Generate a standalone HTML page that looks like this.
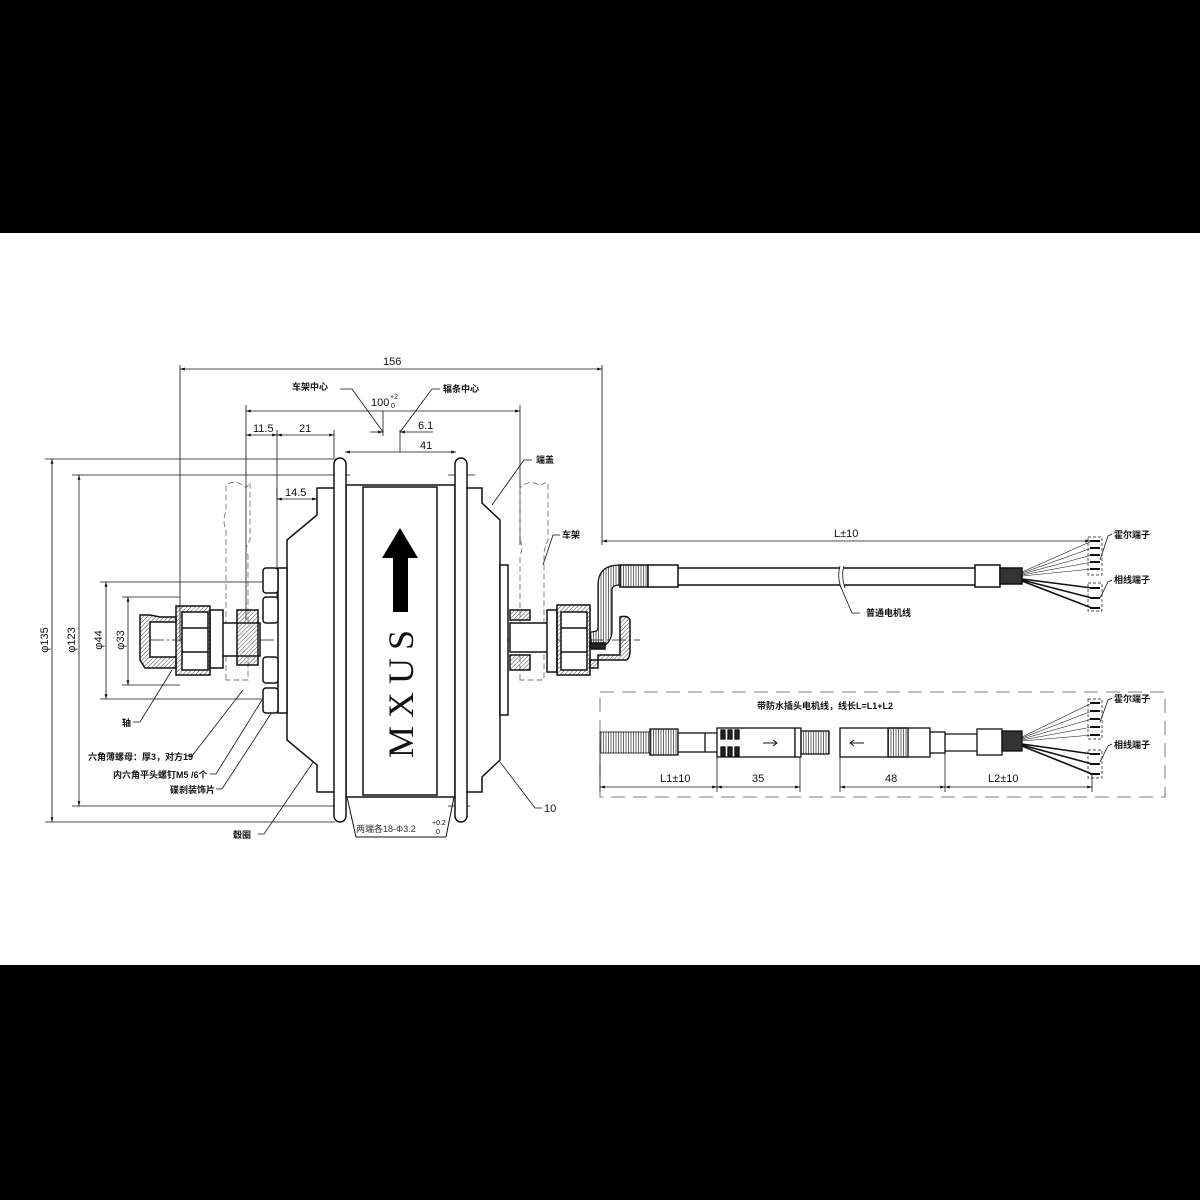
<!DOCTYPE html>
<html><head><meta charset="utf-8"><style>
html,body{margin:0;padding:0;background:#000;}
svg{display:block}
text{font-family:"Liberation Sans","Noto Sans CJK SC",sans-serif;fill:#111}
.cn{font-weight:bold;font-size:9px}
.d{font-size:11px}
</style></head><body>
<svg width="1200" height="1200" viewBox="0 0 1200 1200" xmlns="http://www.w3.org/2000/svg">
<defs>
<pattern id="h" width="3" height="3" patternUnits="userSpaceOnUse" patternTransform="rotate(45)"><line x1="0" y1="0" x2="0" y2="3" stroke="#444" stroke-width="1"/></pattern>
<pattern id="v" width="2.5" height="3" patternUnits="userSpaceOnUse"><line x1="1" y1="0" x2="1" y2="3" stroke="#444" stroke-width="0.8"/></pattern>
<marker id="a" viewBox="0 0 10 10" refX="10" refY="5" markerWidth="6" markerHeight="6" orient="auto-start-reverse"><path d="M0,2 L10,5 L0,8 z" fill="#111"/></marker>
</defs>
<rect x="0" y="233" width="1200" height="732" fill="#fff"/>
<g stroke="#111" fill="none" stroke-width="0.8">
<line x1="180" y1="365" x2="180" y2="642"/>
<line x1="602" y1="365" x2="602" y2="545"/>
<line x1="246" y1="405" x2="246" y2="620"/>
<line x1="520" y1="405" x2="520" y2="545"/>
<line x1="277" y1="430" x2="277" y2="600"/>
<line x1="334" y1="430" x2="334" y2="458"/>
<line x1="383" y1="411" x2="383" y2="436"/>
<line x1="400" y1="430" x2="400" y2="452"/>
<line x1="45" y1="459" x2="340" y2="459"/>
<line x1="72" y1="475" x2="350" y2="475"/>
<line x1="100" y1="582" x2="268" y2="582"/>
<line x1="122" y1="597" x2="180" y2="597"/>
<line x1="122" y1="685" x2="180" y2="685"/>
<line x1="100" y1="699" x2="268" y2="699"/>
<line x1="72" y1="806" x2="340" y2="806"/>
<line x1="45" y1="822" x2="335" y2="822"/>
<line x1="448" y1="475" x2="475" y2="475"/>
<line x1="448" y1="806" x2="470" y2="806"/>
<line x1="277" y1="488" x2="277" y2="500"/>
<line x1="180" y1="369" x2="602" y2="369" marker-start="url(#a)" marker-end="url(#a)"/>
<line x1="246" y1="411" x2="520" y2="411" marker-start="url(#a)" marker-end="url(#a)"/>
<line x1="246" y1="435" x2="277" y2="435" marker-start="url(#a)" marker-end="url(#a)"/>
<line x1="277" y1="435" x2="334" y2="435" marker-start="url(#a)" marker-end="url(#a)"/>
<line x1="370" y1="432" x2="383" y2="432" marker-end="url(#a)"/>
<line x1="400" y1="432" x2="433" y2="432" marker-start="url(#a)"/>
<line x1="345" y1="452" x2="456" y2="452" marker-start="url(#a)" marker-end="url(#a)"/>
<line x1="277" y1="499" x2="317" y2="499" marker-start="url(#a)" marker-end="url(#a)"/>
<line x1="52" y1="459" x2="52" y2="822" marker-start="url(#a)" marker-end="url(#a)"/>
<line x1="79" y1="475" x2="79" y2="806" marker-start="url(#a)" marker-end="url(#a)"/>
<line x1="106" y1="582" x2="106" y2="699" marker-start="url(#a)" marker-end="url(#a)"/>
<line x1="128" y1="597" x2="128" y2="685" marker-start="url(#a)" marker-end="url(#a)"/>
<polyline points="340,389 352,389 383,432"/>
<polyline points="440,389 432,389 400,432"/>
<polyline points="532,460 524,460 492,505"/>
<polyline points="560,535 553,535 543,565"/>
<polyline points="542,808 535,808 500,762"/>
<polyline points="133,722 140,722 172,670"/>
<polyline points="186,756 192,756 243,690"/>
<polyline points="210,774 216,774 262,700"/>
<polyline points="216,789 222,789 272,712"/>
<polyline points="258,834 264,834 318,755"/>
<polyline points="860,613 852,613 840,585"/>
<line x1="150" y1="640" x2="640" y2="640" stroke-dasharray="14,3,2,3"/>
</g>
<g stroke="#777" fill="none" stroke-width="0.9" stroke-dasharray="6,3">
<path d="M226,680 V530 Q222,520 226,512 V485 Q236,478 246,488 Q252,480 250,484 V540 Q244,548 248,555 V680 Z"/>
<path d="M520,680 V555 Q524,548 520,540 V488 Q530,478 540,486 Q548,480 548,484 V540 Q544,548 544,555 V680 Z"/>
</g>
<g stroke="#111" fill="#fff" stroke-width="1.5">
<path d="M334,488 H317 V515 L287,540 V740 L317,765 V792 H334"/>
<path d="M467,488 H482 V503 L500,520 V760 L482,777 V792 H467"/>
<rect x="346" y="485" width="109" height="312"/>
<rect x="363" y="487" width="74" height="308"/>
<rect x="334" y="458" width="12" height="364" rx="6"/>
<rect x="455" y="458" width="12" height="364" rx="6"/>
<path d="M347,797 L356,837 H446 L454,797" fill="none" stroke-width="1"/>
<rect x="278" y="568" width="9" height="145"/>
<rect x="263" y="568" width="15" height="25" rx="3"/>
<rect x="263" y="597" width="15" height="26" rx="3"/>
<rect x="263" y="657" width="15" height="26" rx="3"/>
<rect x="263" y="688" width="15" height="25" rx="3"/>
<rect x="220" y="623" width="40" height="33"/>
<path d="M237,610 H258 V665 H237 Z" fill="url(#h)"/>
<rect x="210" y="610" width="13" height="58"/>
<path d="M176,606 H210 V675 H176 Z" fill="url(#h)"/>
<rect x="182" y="612" width="26" height="58"/>
<line x1="182" y1="628" x2="208" y2="628"/><line x1="182" y1="652" x2="208" y2="652"/>
<path d="M176,617 H160 L150,615 H140 V660 L145,668 H176 V657 H150 V622 H176 Z" fill="url(#h)"/>
<rect x="500" y="565" width="8" height="150"/>
<rect x="510" y="623" width="38" height="29"/>
<path d="M510,610 H530 V620 H510 Z M510,655 H530 V670 H510 Z" fill="url(#h)"/>
<rect x="547" y="610" width="10" height="62"/>
<path d="M557,605 H590 V675 H557 Z" fill="url(#h)"/>
<rect x="561" y="612" width="26" height="58"/>
<line x1="561" y1="628" x2="587" y2="628"/><line x1="561" y1="652" x2="587" y2="652"/>
<path d="M590,660 H625 Q630,660 630,650 V620 Q628,615 620,617 V655 H598 V668 H590 Z" fill="url(#h)"/>
<path d="M592,648 Q612,648 612,630 V590 Q612,585 620,585 V565 Q598,565 598,585 V628 Q598,632 590,632 Z" fill="url(#v)" stroke-width="1.2"/>
<rect x="590" y="643" width="15" height="6" fill="#222"/>
</g>
<path d="M400,528 L418,558 H408 V612 H393 V558 H382 Z" fill="#000"/>
<text x="0" y="0" transform="translate(413,758) rotate(-90)" style="font-family:'Liberation Serif',serif;font-size:36px;letter-spacing:8px">MXUS</text>
<g stroke="#111" stroke-width="1.5" fill="#fff">
<line x1="602" y1="541" x2="1090" y2="541" stroke-width="0.8" marker-start="url(#a)" marker-end="url(#a)"/>
<rect x="620" y="565" width="28" height="22" fill="url(#v)"/>
<rect x="648" y="565" width="30" height="22"/>
<path d="M678,568 H840 M844,568 H975 M678,585 H840 M844,585 H975"/>
<path d="M840,566 Q837,576 841,588 M844,566 Q841,576 845,588" stroke-width="0.8" fill="none"/>
<rect x="975" y="565" width="25" height="22"/>
<rect x="1000" y="568" width="22" height="16" fill="#333"/>
</g>
<g stroke="#111" fill="none">
<g stroke-width="0.6"><line x1="1022" y1="572" x2="1092" y2="541"/><line x1="1022" y1="573" x2="1092" y2="548"/><line x1="1022" y1="574" x2="1092" y2="555"/><line x1="1022" y1="575" x2="1092" y2="562"/><line x1="1022" y1="576" x2="1092" y2="569"/></g>
<g stroke-width="1.6"><line x1="1022" y1="579" x2="1092" y2="588"/><line x1="1022" y1="580" x2="1092" y2="598"/><line x1="1022" y1="581" x2="1092" y2="608"/></g>
<g stroke-width="2"><line x1="1090" y1="541" x2="1100" y2="541"/><line x1="1090" y1="548" x2="1100" y2="548"/><line x1="1090" y1="555" x2="1100" y2="555"/><line x1="1090" y1="562" x2="1100" y2="562"/><line x1="1090" y1="569" x2="1100" y2="569"/><line x1="1090" y1="588" x2="1100" y2="588"/><line x1="1090" y1="598" x2="1100" y2="598"/><line x1="1090" y1="608" x2="1100" y2="608"/></g>
<g stroke-width="0.7" stroke-dasharray="3,2"><rect x="1088" y="537" width="14" height="38"/><rect x="1088" y="583" width="14" height="28"/></g>
<polyline points="1100,560 1108,536 1112,534" stroke-width="0.8"/>
<polyline points="1100,598 1108,582 1112,580" stroke-width="0.8"/>
<rect x="600" y="692" width="565" height="105" stroke="#555" stroke-width="0.8" stroke-dasharray="14,8"/>
</g>
<g stroke="#111" stroke-width="1.3" fill="#fff">
<rect x="600" y="732" width="50" height="21" fill="url(#v)" stroke-width="0.8"/>
<rect x="650" y="729" width="28" height="26" fill="url(#v)"/>
<rect x="678" y="733" width="27" height="19"/>
<path d="M705,733 H718 M705,752 H718" />
<rect x="717" y="728" width="78" height="29"/>
<rect x="721" y="730" width="4" height="9" fill="#222"/><rect x="728" y="730" width="4" height="9" fill="#222"/><rect x="735" y="730" width="4" height="9" fill="#222"/>
<rect x="721" y="747" width="4" height="9" fill="#222"/><rect x="728" y="747" width="4" height="9" fill="#222"/><rect x="735" y="747" width="4" height="9" fill="#222"/>
<rect x="795" y="728" width="6" height="29"/>
<rect x="801" y="731" width="28" height="23" fill="url(#v)"/>
<rect x="840" y="728" width="90" height="29"/>
<rect x="888" y="728" width="20" height="29" fill="url(#v)"/>
<rect x="930" y="732" width="15" height="21"/>
<path d="M945,734 H977 M945,751 H977"/>
<rect x="977" y="729" width="25" height="26"/>
<rect x="1002" y="731" width="20" height="20" fill="#333"/>
</g>
<g stroke="#111" fill="none">
<path d="M763,743 H777 M773,740 L777,743 L773,746" stroke-width="1"/>
<path d="M850,743 H864 M854,740 L850,743 L854,746" stroke-width="1"/>
<g stroke-width="0.6"><line x1="1022" y1="737" x2="1092" y2="703"/><line x1="1022" y1="738" x2="1092" y2="711"/><line x1="1022" y1="739" x2="1092" y2="719"/><line x1="1022" y1="740" x2="1092" y2="727"/><line x1="1022" y1="741" x2="1092" y2="735"/></g>
<g stroke-width="1.6"><line x1="1022" y1="744" x2="1092" y2="754"/><line x1="1022" y1="745" x2="1092" y2="764"/><line x1="1022" y1="746" x2="1092" y2="774"/></g>
<g stroke-width="2"><line x1="1090" y1="703" x2="1100" y2="703"/><line x1="1090" y1="711" x2="1100" y2="711"/><line x1="1090" y1="719" x2="1100" y2="719"/><line x1="1090" y1="727" x2="1100" y2="727"/><line x1="1090" y1="735" x2="1100" y2="735"/><line x1="1090" y1="754" x2="1100" y2="754"/><line x1="1090" y1="764" x2="1100" y2="764"/><line x1="1090" y1="774" x2="1100" y2="774"/></g>
<g stroke-width="0.7" stroke-dasharray="3,2"><rect x="1088" y="699" width="14" height="40"/><rect x="1088" y="750" width="14" height="28"/></g>
<polyline points="1100,722 1108,700 1112,698" stroke-width="0.8"/>
<polyline points="1100,762 1108,746 1112,744" stroke-width="0.8"/>
<g stroke-width="0.8">
<line x1="600" y1="755" x2="600" y2="792"/><line x1="717" y1="757" x2="717" y2="792"/><line x1="800" y1="757" x2="800" y2="792"/>
<line x1="840" y1="757" x2="840" y2="792"/><line x1="945" y1="753" x2="945" y2="792"/><line x1="1092" y1="774" x2="1092" y2="792"/>
<line x1="600" y1="787" x2="717" y2="787" marker-start="url(#a)" marker-end="url(#a)"/>
<line x1="717" y1="787" x2="800" y2="787" marker-start="url(#a)" marker-end="url(#a)"/>
<line x1="840" y1="787" x2="945" y2="787" marker-start="url(#a)" marker-end="url(#a)"/>
<line x1="945" y1="787" x2="1092" y2="787" marker-start="url(#a)" marker-end="url(#a)"/>
</g>
</g>
<text x="383" y="365" class="d">156</text>
<text x="292" y="390" class="cn">车架中心</text>
<text x="443" y="392" class="cn">辐条中心</text>
<text x="371" y="406" class="d">100</text><text x="390" y="399" style="font-size:7px">+2</text><text x="391" y="408" style="font-size:7px">0</text>
<text x="253" y="432" class="d">11.5</text>
<text x="299" y="432" class="d">21</text>
<text x="418" y="429" class="d">6.1</text>
<text x="420" y="449" class="d">41</text>
<text x="285" y="496" class="d">14.5</text>
<text x="536" y="463" class="cn">端盖</text>
<text x="562" y="538" class="cn">车架</text>
<text x="544" y="812" class="d">10</text>
<text transform="translate(48,640) rotate(-90)" class="d" text-anchor="middle">φ135</text>
<text transform="translate(75,640) rotate(-90)" class="d" text-anchor="middle">φ123</text>
<text transform="translate(102,640) rotate(-90)" class="d" text-anchor="middle">φ44</text>
<text transform="translate(124,640) rotate(-90)" class="d" text-anchor="middle">φ33</text>
<text x="122" y="726" class="cn">轴</text>
<text x="88" y="760" class="cn">六角薄螺母：厚3，对方19</text>
<text x="113" y="778" class="cn">内六角平头螺钉M5 /6个</text>
<text x="170" y="793" class="cn">碟刹装饰片</text>
<text x="233" y="838" class="cn">毂圈</text>
<text x="356" y="832" style="font-size:9px;fill:#333">两端各18-Φ3.2</text><text x="432" y="825" style="font-size:7px">+0.2</text><text x="436" y="834" style="font-size:7px">0</text>
<text x="834" y="537" class="d">L±10</text>
<text x="866" y="616" class="cn">普通电机线</text>
<text x="1114" y="538" class="cn">霍尔端子</text>
<text x="1114" y="583" class="cn">相线端子</text>
<text x="757" y="709" class="cn">带防水插头电机线，线长L=L1+L2</text>
<text x="1114" y="702" class="cn">霍尔端子</text>
<text x="1114" y="748" class="cn">相线端子</text>
<text x="660" y="782" class="d">L1±10</text>
<text x="752" y="782" class="d">35</text>
<text x="885" y="782" class="d">48</text>
<text x="988" y="782" class="d">L2±10</text>
</svg>
</body></html>
